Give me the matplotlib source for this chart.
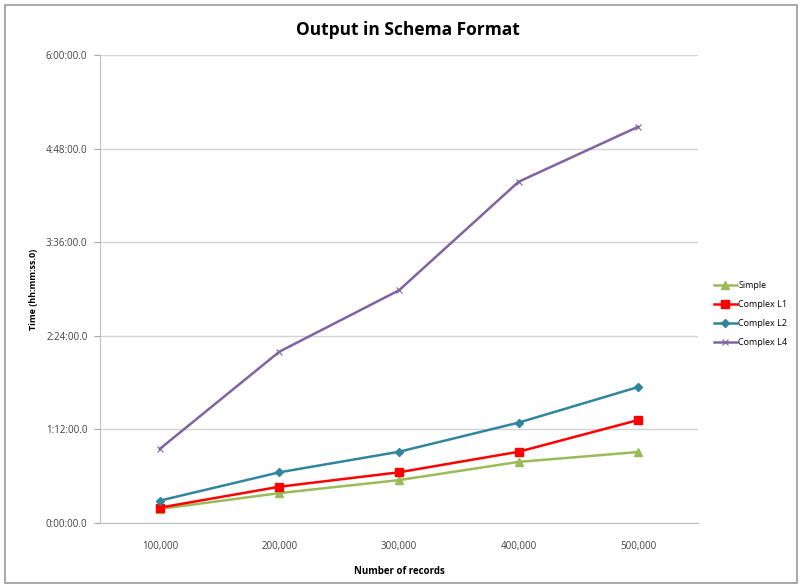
import numpy as np
import matplotlib.pyplot as plt
from matplotlib.ticker import FuncFormatter
from matplotlib.patches import Rectangle

plt.rcParams['font.family'] = ['Open Sans', 'DejaVu Sans']

# Daten (Zeit in Minuten)
records = ['100,000', '200,000', '300,000', '400,000', '500,000']
simple = [10.8, 23, 33, 47, 54.6]
complex_l1 = [11.8, 27.9, 39, 54.8, 79.2]
complex_l2 = [17.2, 39, 54.8, 77.2, 104.6]
complex_l4 = [57, 131.8, 179, 262.5, 304.8]

def hms(v, pos):
    m = int(round(v))
    return "%d:%02d:00.0" % (m // 60, m % 60)

fig = plt.figure(figsize=(8.03, 5.86), dpi=100)
ax = fig.add_axes([100/803, 1-523/586, 598/803, 468/586])
fig.patches.append(Rectangle((5/803, 3/586), 792/803, 578/586, transform=fig.transFigure,
                             fill=False, ec='#9a9a9a', lw=1.2))

x = np.arange(len(records))
ax.plot(x, simple, color='#9BBB59', lw=1.8, marker='^', ms=6, label='Simple')
ax.plot(x, complex_l1, color='#FF0000', lw=1.8, marker='s', ms=6, label='Complex L1')
ax.plot(x, complex_l2, color='#31859C', lw=1.8, marker='D', ms=4, label='Complex L2')
ax.plot(x, complex_l4, color='#8064A2', lw=1.8, marker='x', ms=4, mew=0.8, label='Complex L4')

ax.set_xlim(-0.5, 4.5)
ax.set_ylim(0, 360)
ax.set_yticks(np.arange(0, 361, 72))
ax.yaxis.set_major_formatter(FuncFormatter(hms))
ax.set_xticks(x)
ax.set_xticklabels(records)
ax.tick_params(axis='x', length=0, pad=13)
ax.tick_params(axis='y', length=4, color='#a6a6a6', pad=5)
ax.tick_params(labelsize=7, labelcolor='#404040')
ax.grid(axis='y', color='#d4d4d4', lw=1)
ax.set_axisbelow(True)
for s in ['top', 'right']:
    ax.spines[s].set_visible(False)
for s in ['left', 'bottom']:
    ax.spines[s].set_color('#bfbfbf')

ax.set_xlabel('Number of records', fontsize=7, fontweight='bold', labelpad=10)
ax.set_ylabel('Time (hh:mm:ss.0)', fontsize=6.5, fontweight='bold', labelpad=6)
fig.text(408/803, 1-30/586, 'Output in Schema Format', ha='center', va='center',
         fontsize=12.5, fontweight='bold')

ax.legend(loc='center left', bbox_to_anchor=(706/803, 1-314/586), bbox_transform=fig.transFigure,
          frameon=False, fontsize=6.5, handlelength=2.5, labelspacing=1.1, handletextpad=0.2)

fig.savefig('out.png', dpi=100)
